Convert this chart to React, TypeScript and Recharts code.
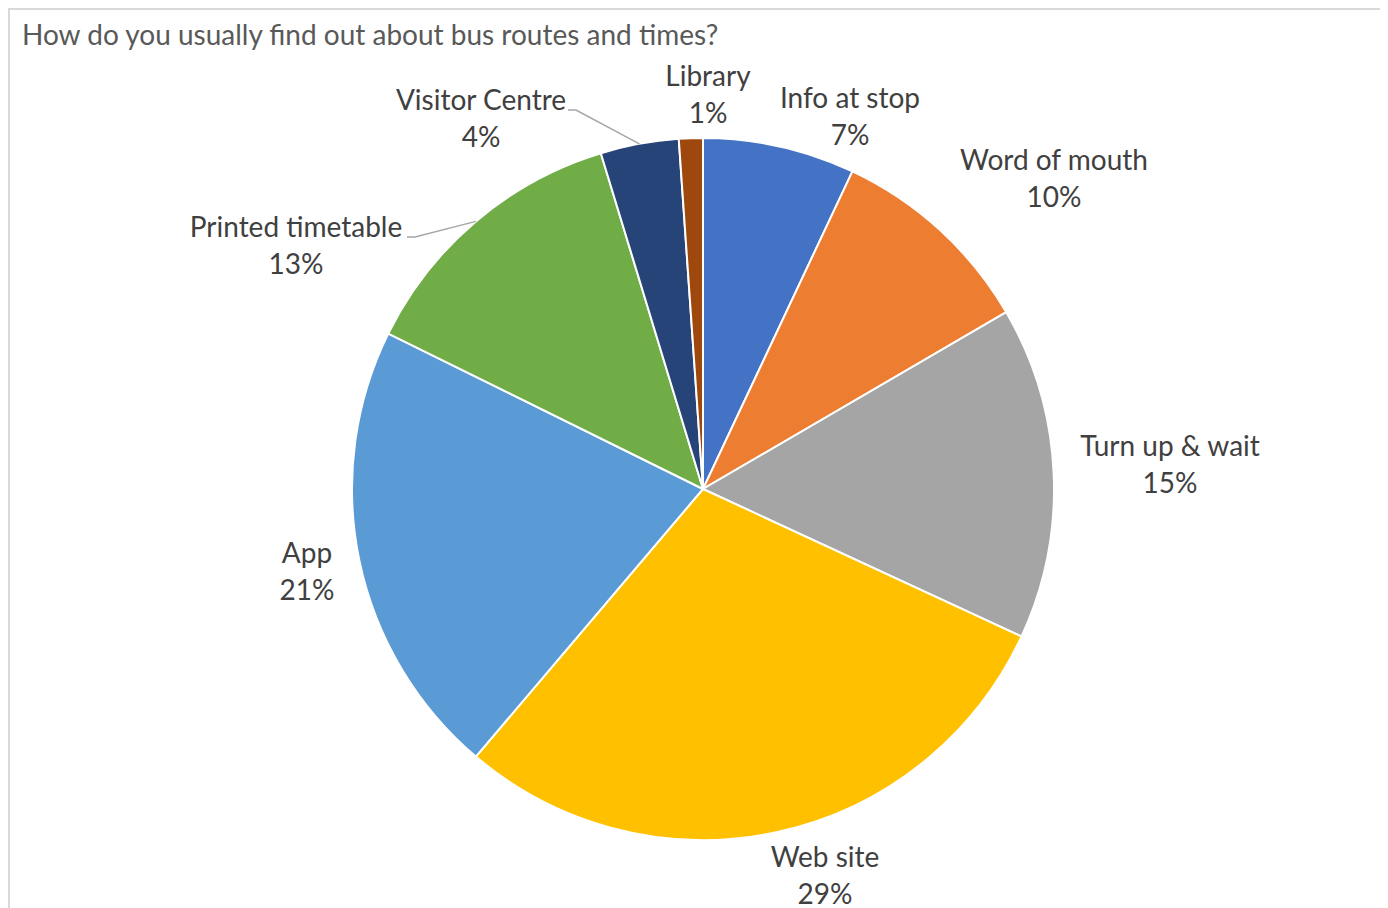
import React from "react";
import { PieChart, Pie, Cell } from "recharts";

// share of respondents per source, clockwise from 12 o'clock
const categories = [
  "Info at stop",
  "Word of mouth",
  "Turn up & wait",
  "Web site",
  "App",
  "Printed timetable",
  "Visitor Centre",
  "Library",
];
const shares = [7.0, 9.6, 15.3, 29.3, 21.1, 13.0, 3.6, 1.1];
const colors = [
  "#4472C4",
  "#ED7D31",
  "#A5A5A5",
  "#FFC000",
  "#5B9BD5",
  "#70AD47",
  "#264478",
  "#9E480E",
];

const data = categories.map((name, i) => ({ name, value: shares[i] }));

const FONT = "Lato, 'Open Sans', sans-serif";
const LINE_GAP = 37;

// manual label placement (offset of first baseline from pie centre), like Excel's best fit
const labelLayout: Record<string, { dx: number; dy: number; leader?: number }> = {
  "Info at stop": { dx: 147, dy: -381 },
  "Word of mouth": { dx: 351, dy: -319 },
  "Turn up & wait": { dx: 467, dy: -33 },
  "Web site": { dx: 122, dy: 378 },
  App: { dx: -396, dy: 74 },
  "Printed timetable": { dx: -407, dy: -252, leader: -296 },
  "Visitor Centre": { dx: -222, dy: -379, leader: -135 },
  Library: { dx: 5, dy: -403 },
};

const RADIAN = Math.PI / 180;

const renderLabel = (props: any) => {
  const cx = Number(props.cx);
  const cy = Number(props.cy);
  const { midAngle, outerRadius, name, percent } = props;
  const pos = labelLayout[name];
  const x = cx + pos.dx;
  const y = cy + pos.dy;
  const pct = `${Math.round(percent * 100)}%`;

  let leader = null;
  if (pos.leader !== undefined) {
    const ex = cx + outerRadius * Math.cos(-midAngle * RADIAN);
    const ey = cy + outerRadius * Math.sin(-midAngle * RADIAN);
    const sx = cx + pos.leader;
    leader = (
      <polyline
        points={`${sx},${y} ${sx + 8},${y} ${ex},${ey}`}
        fill="none"
        stroke="#A6A6A6"
        strokeWidth={1.5}
      />
    );
  }

  return (
    <g>
      {leader}
      <text
        x={x}
        y={y}
        textAnchor="middle"
        fill="#404040"
        fontSize={28}
        fontFamily={FONT}
      >
        <tspan x={x} dy={0}>
          {name}
        </tspan>
        <tspan x={x} dy={LINE_GAP}>
          {pct}
        </tspan>
      </text>
    </g>
  );
};

export default function App() {
  return (
    <div
      style={{
        position: "relative",
        width: 1380,
        height: 900,
        fontFamily: FONT,
        background: "#fff",
      }}
    >
      <div
        style={{
          position: "absolute",
          inset: 0,
          borderTop: "2px solid #D9D9D9",
          borderLeft: "2px solid #D9D9D9",
          pointerEvents: "none",
        }}
      />
      <div
        style={{
          position: "absolute",
          left: 14,
          top: 12,
          fontSize: 28,
          lineHeight: "28px",
          color: "#595959",
          whiteSpace: "nowrap",
        }}
      >
        How do you usually find out about bus routes and times?
      </div>
      <div style={{ position: "absolute", left: 0, top: 0 }}>
        <PieChart
          width={1380}
          height={900}
          margin={{ top: 0, right: 0, bottom: 0, left: 0 }}
        >
          <Pie
            data={data}
            dataKey="value"
            nameKey="name"
            cx={695}
            cy={481}
            outerRadius={351}
            startAngle={90}
            endAngle={-270}
            stroke="#FFFFFF"
            strokeWidth={2}
            label={renderLabel}
            labelLine={false}
            isAnimationActive={false}
          >
            {data.map((d, i) => (
              <Cell key={d.name} fill={colors[i]} />
            ))}
          </Pie>
        </PieChart>
      </div>
    </div>
  );
}
